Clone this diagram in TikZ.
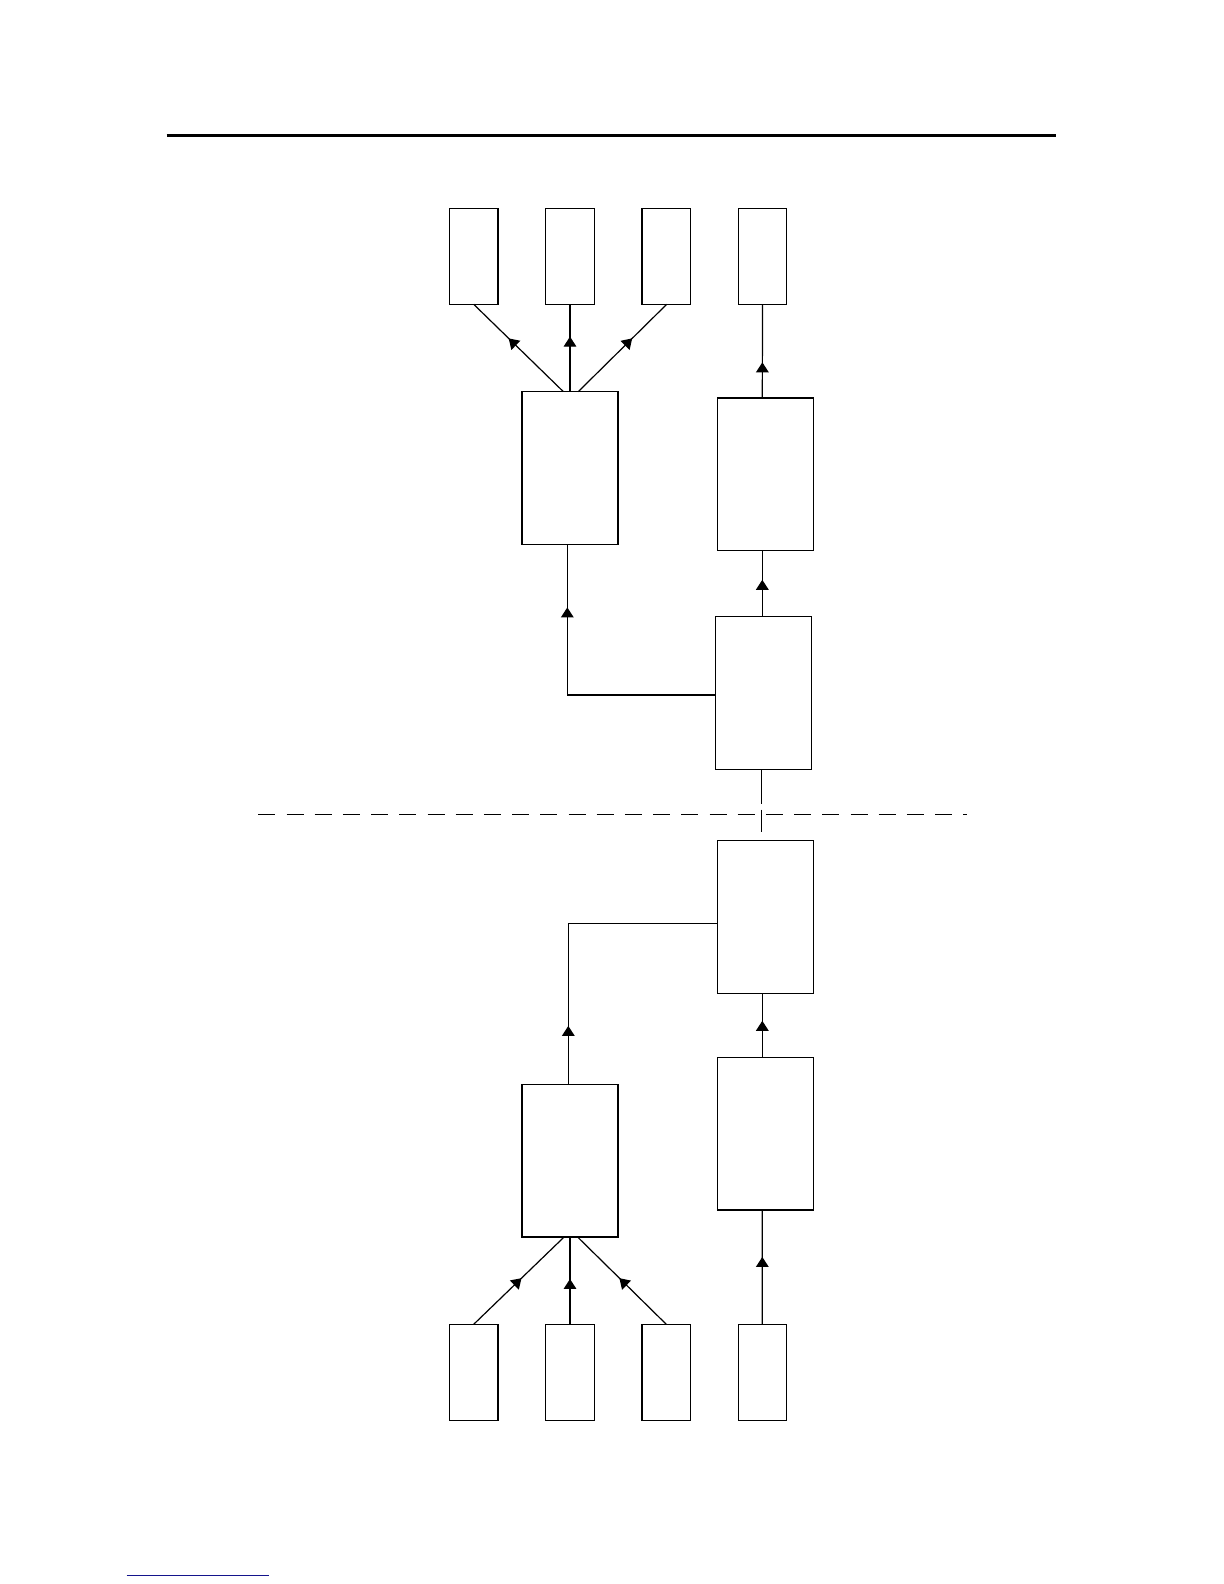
\documentclass[tikz,border=0pt]{standalone}
\usetikzlibrary{arrows.meta,decorations.markings,calc}
\definecolor{navyline}{RGB}{20,20,140}
\begin{document}
\begin{tikzpicture}[x=0.5pt,y=-0.5pt,
 smallbox/.style={draw, line width=0.65pt, minimum width=24.2pt, minimum height=48pt, inner sep=0pt, outer sep=0pt},
 bigbox/.style={draw, line width=0.65pt, minimum width=48pt, minimum height=76.4pt, inner sep=0pt, outer sep=0pt},
 conn/.style={line width=0.6pt},
 midarrow/.style={postaction={decorate}, decoration={markings, mark=at position #1 with {\arrow{Triangle[length=5pt,width=6.3pt]}}}},
 hdash/.style={line width=0.65pt, dash pattern=on 8.5pt off 5.6pt},
 vdash/.style={line width=0.6pt, dash pattern=on 17pt off 3pt on 11pt off 10pt}
]
\useasboundingbox (0,0) rectangle (1224,1584);

% top rule
\coordinate (r1) at (166.6,135.3);
\coordinate (r2) at (1056.4,135.3);
\draw[line width=1.3pt] (r1) -- (r2);

% upper half
\node[smallbox] (t1) at (473.7,256.3) {};
\node[smallbox] (t2) at (570,256.3) {};
\node[smallbox] (t3) at (666.3,256.3) {};
\node[smallbox] (t4) at (762.5,256.3) {};
\node[bigbox] (A) at (570,468) {};
\node[bigbox] (B) at (765.4,474.3) {};
\node[bigbox] (C) at (763.7,693.2) {};

\draw[conn, midarrow=0.61] ($(A.north)+(-6.7,0)$) -- (t1.south);
\draw[conn, midarrow=0.63] (A.north) -- (t2.south);
\draw[conn, midarrow=0.61] ($(A.north)+(8.3,0)$) -- ($(t3.south)+(0.4,0)$);
\draw[conn, midarrow=0.38] ($(B.north)+(-3.1,0)$) -- (t4.south);
\draw[conn, midarrow=0.56] ($(C.north)+(-1.4,0)$) -- ($(B.south)+(-3.1,0)$);
\draw[conn, midarrow=118pt] ($(C.west)+(0,1.8)$) -| ($(A.south)+(-2.7,0)$);

% separator
\coordinate (s1) at (258.3,814.7);
\coordinate (s2) at (966.5,814.7);
\draw[hdash] (s1) -- (s2);

% lower half
\node[bigbox] (D) at (765.3,916.9) {};
\node[bigbox] (E) at (570,1160.7) {};
\node[bigbox] (F) at (765.3,1133.7) {};
\node[smallbox] (b1) at (473.7,1372.3) {};
\node[smallbox] (b2) at (570,1372.3) {};
\node[smallbox] (b3) at (666.3,1372.3) {};
\node[smallbox] (b4) at (762.5,1372.3) {};

\coordinate (cd) at ($(C.south)+(-2.4,0)$);
\draw[vdash] (cd) -- (cd |- D.north);

\draw[conn, midarrow=29.2pt] ($(E.north)+(-1.7,0)$) |- ($(D.west)+(0,6.4)$);
\draw[conn, midarrow=0.57] ($(F.north)+(-3,0)$) -- ($(D.south)+(-3,0)$);
\draw[conn, midarrow=0.53] (b1.north) -- ($(E.south)+(-6,0)$);
\draw[conn, midarrow=0.52] (b2.north) -- (E.south);
\draw[conn, midarrow=0.53] (b3.north) -- ($(E.south)+(7.7,0)$);
\draw[conn, midarrow=0.59] ($(b4.north)+(-0.2,0)$) -- ($(F.south)+(-3,0)$);

% footnote rule
\coordinate (n1) at (126.7,1575);
\coordinate (n2) at (269,1575);
\draw[navyline, line width=0.5pt] (n1) -- (n2);
\end{tikzpicture}
\end{document}
